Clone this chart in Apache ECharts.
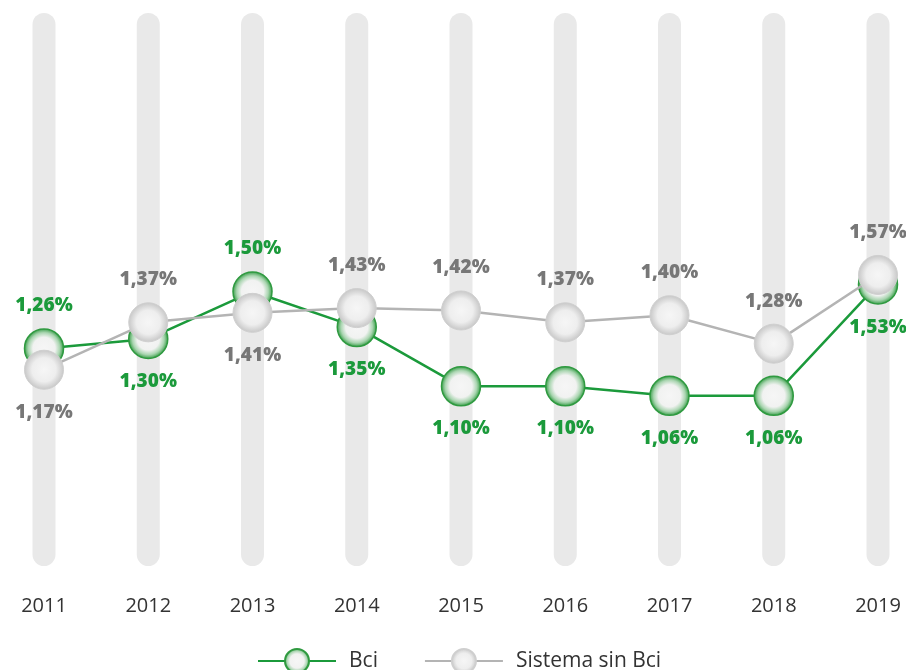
<!DOCTYPE html>
<html lang="es">
<head>
    <meta charset="utf-8">
    <title>Bci vs Sistema sin Bci</title>
    <style>
        html, body { margin: 0; padding: 0; background: #fff; }
        #chart { width: 906px; height: 670px; }
    </style>
</head>
<body>
<div id="chart"></div>
<script src="https://cdn.jsdelivr.net/npm/echarts@6/dist/echarts.min.js"></script>
<script>
    // datos
    const years = ['2011', '2012', '2013', '2014', '2015', '2016', '2017', '2018', '2019'];
    const bci = [1.26, 1.30, 1.50, 1.35, 1.10, 1.10, 1.06, 1.06, 1.53];
    const sistema = [1.17, 1.37, 1.41, 1.43, 1.42, 1.37, 1.40, 1.28, 1.57];

    // donde va cada etiqueta (arriba / abajo del punto)
    const bciLabelPos = ['top', 'bottom', 'top', 'bottom', 'bottom', 'bottom', 'bottom', 'bottom', 'bottom'];
    const sistemaLabelPos = ['bottom', 'top', 'bottom', 'top', 'top', 'top', 'top', 'top', 'top'];

    const green = '#1b9a3b';
    const grey = '#b4b4b4';

    function pct(v) {
        return v.toFixed(2).replace('.', ',') + '%';
    }

    const greenBall = {
        type: 'radial', x: 0.5, y: 0.5, r: 0.5,
        colorStops: [
            { offset: 0, color: '#f6f6f6' },
            { offset: 0.55, color: '#f1f2f1' },
            { offset: 0.78, color: '#a9d5b0' },
            { offset: 1, color: '#2c973d' }
        ]
    };
    const greyBall = {
        type: 'radial', x: 0.5, y: 0.5, r: 0.5,
        colorStops: [
            { offset: 0, color: '#f6f6f6' },
            { offset: 0.6, color: '#eeeeee' },
            { offset: 1, color: '#c6c6c6' }
        ]
    };

    function points(values, positions, color) {
        return values.map(function (v, i) {
            return {
                value: v,
                label: { position: positions[i], color: color }
            };
        });
    }

    const labelStyle = {
        show: true,
        distance: 13,
        fontFamily: 'Open Sans',
        fontWeight: 800,
        fontSize: 19,
        formatter: function (p) { return pct(p.value); }
    };

    let chart = echarts.init(document.getElementById('chart'));
    let option = {
        animation: false,
        grid: { left: 44, right: 28, top: 13, bottom: 104 },
        legend: {
            left: 252,
            top: 643,
            itemWidth: 78,
            itemHeight: 30,
            itemGap: 46,
            data: ['Bci', 'Sistema sin Bci'],
            textStyle: { fontFamily: 'Open Sans', fontSize: 21, color: '#333', padding: [0, 0, 0, 8] }
        },
        xAxis: {
            type: 'category',
            data: years,
            boundaryGap: false,
            axisLine: { show: false },
            axisTick: { show: false },
            axisLabel: { margin: 30, fontFamily: 'Open Sans', fontSize: 20, color: '#333' }
        },
        yAxis: [
            { type: 'value', min: 0.342, max: 2.675, show: false },
            { type: 'value', min: 0, max: 1, show: false }
        ],
        series: [
            {
                name: 'columnas',
                type: 'bar',
                yAxisIndex: 1,
                data: years.map(function () { return 1; }),
                barWidth: 23,
                silent: true,
                z: 1,
                itemStyle: { color: '#e9e9e9', borderRadius: 12 }
            },
            {
                name: 'Bci',
                type: 'line',
                data: points(bci, bciLabelPos, green),
                z: 3,
                symbol: 'circle',
                symbolSize: 39,
                lineStyle: { color: green, width: 2.5 },
                itemStyle: { color: greenBall, borderColor: '#2f9a40', borderWidth: 1.5 },
                label: labelStyle
            },
            {
                name: 'Sistema sin Bci',
                type: 'line',
                data: points(sistema, sistemaLabelPos, '#777'),
                z: 4,
                symbol: 'circle',
                symbolSize: 39,
                lineStyle: { color: grey, width: 2.5 },
                itemStyle: { color: greyBall, borderColor: '#cfcfcf', borderWidth: 1 },
                label: labelStyle
            }
        ]
    };
    chart.setOption(option);
</script>
</body>
</html>
